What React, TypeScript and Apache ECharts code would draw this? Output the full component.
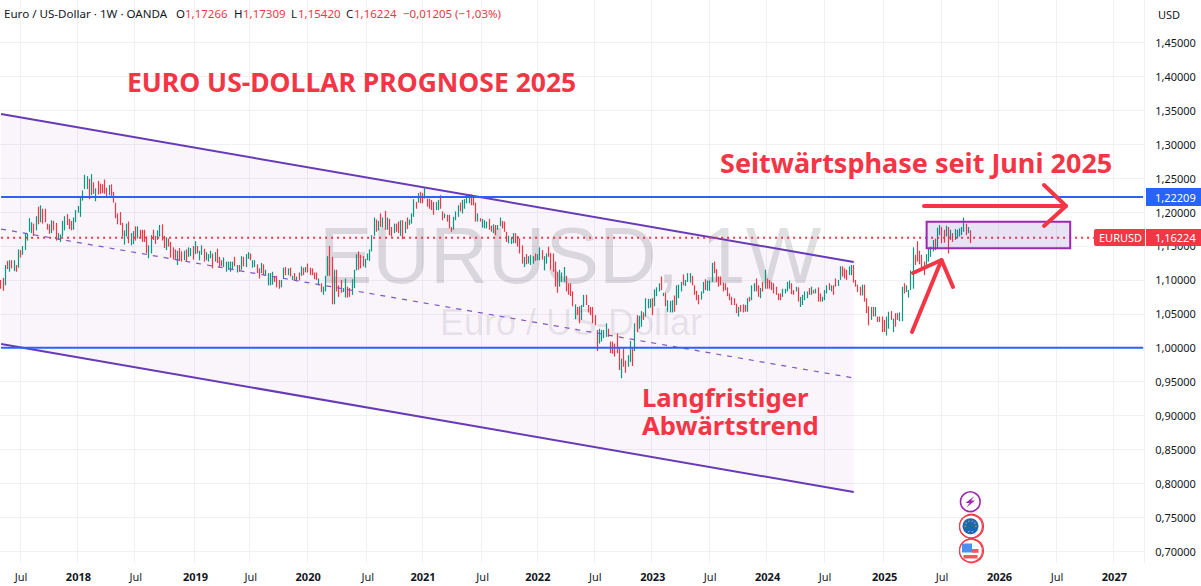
import React, { useEffect, useRef } from "react";
import * as echarts from "echarts";

type Bar = number[];
// rows are [open, close] or [open, close, low, high]
const bars2017: Bar[] = [
[1.100,1.087],[1.103,1.084],[1.092,1.122],[1.128,1.116],[1.112,1.129],[1.129,1.117],[1.113,1.129],[1.122,1.112],[1.118,1.145],[1.144,1.133],
[1.137,1.150],[1.144,1.169],[1.158,1.168],[1.171,1.191],[1.169,1.185],[1.183,1.165],[1.173,1.194],[1.208,1.182],[1.185,1.210],[1.205,1.183],
[1.205,1.185],[1.183,1.174],[1.182,1.168],[1.169,1.188],[1.187,1.173],[1.184,1.158],[1.159,1.169],[1.156,1.167],[1.164,1.187],[1.173,1.194],
[1.197,1.181],[1.190,1.175],[1.187,1.173],[1.174,1.192],[1.185,1.203],
];
const bars2018: Bar[] = [
[1.199,1.209],[1.193,1.222],[1.217,1.232],[1.234,1.255],[1.234,1.253],[1.249,1.219],[1.225,1.256],[1.244,1.227],[1.216,1.235],[1.246,1.226],
[1.242,1.227],[1.241,1.228],[1.248,1.227],[1.236,1.223],[1.225,1.240],[1.241,1.224],[1.230,1.214],[1.214,1.191],[1.198,1.182],[1.200,1.181],
[1.184,1.164],[1.152,1.173],[1.164,1.183],[1.186,1.154],[1.151,1.169],[1.153,1.172],[1.179,1.158],[1.161,1.179],[1.174,1.161],[1.174,1.156],
[1.174,1.156],[1.164,1.139],[1.132,1.151],[1.139,1.166],[1.174,1.159],[1.165,1.153],[1.159,1.173],[1.164,1.181],[1.182,1.158],[1.165,1.147],
[1.144,1.163],[1.161,1.149],[1.156,1.133],[1.148,1.130],[1.145,1.131],[1.122,1.143],[1.147,1.128],[1.142,1.127],[1.129,1.143],[1.145,1.127],
[1.134,1.148],[1.135,1.147],[1.150,1.130],
];
const bars2019: Bar[] = [
[1.138,1.157],[1.150,1.139],[1.129,1.143],[1.137,1.151],[1.146,1.127],[1.129,1.141],[1.127,1.138],[1.132,1.143],[1.139,1.117],[1.127,1.141],
[1.146,1.125],[1.134,1.118],[1.129,1.120],[1.119,1.133],[1.112,1.127],[1.115,1.127],[1.112,1.127],[1.115,1.127],[1.134,1.120],[1.111,1.122],
[1.122,1.112],[1.115,1.135],[1.134,1.120],[1.119,1.138],[1.131,1.141],[1.139,1.129],[1.118,1.129],[1.119,1.129],[1.123,1.110],[1.117,1.102],
[1.110,1.125],[1.123,1.107],[1.106,1.115],[1.092,1.110],[1.092,1.110],[1.093,1.112],[1.106,1.097],[1.106,1.089],[1.100,1.087],[1.089,1.100],
[1.102,1.118],[1.119,1.107],[1.107,1.117],[1.118,1.105],[1.100,1.106],[1.110,1.099],[1.098,1.105],[1.111,1.099],[1.106,1.120],[1.118,1.107],
[1.111,1.119],
];
const bars2020: Bar[] = [
[1.124,1.111],[1.118,1.107],[1.117,1.107],[1.111,1.101],[1.111,1.100],[1.092,1.102],[1.095,1.082],[1.078,1.090],[1.083,1.106],[1.106,1.135],
[1.150,1.106],[1.134,1.064],[1.064,1.115],[1.115,1.083],[1.092,1.075],[1.100,1.081],[1.082,1.088],[1.074,1.102],[1.090,1.074],[1.088,1.075],
[1.078,1.101],[1.088,1.115],[1.114,1.138],[1.142,1.115],[1.137,1.117],[1.135,1.120],[1.118,1.131],[1.129,1.139],[1.128,1.145],[1.142,1.166],
[1.165,1.192],[1.189,1.171],[1.173,1.187],[1.198,1.178],[1.177,1.192],[1.202,1.174],[1.174,1.192],[1.190,1.166],[1.178,1.164],[1.169,1.183],
[1.183,1.171],[1.186,1.169],[1.165,1.188],[1.188,1.160],[1.169,1.186],[1.192,1.175],[1.181,1.189],[1.183,1.198],[1.193,1.219],[1.215,1.205],
[1.214,1.228],[1.230,1.213],
];
const bars2021: Bar[] = [
[1.228,1.213],[1.220,1.235],[1.220,1.208],[1.220,1.205],[1.218,1.203],[1.215,1.196],[1.203,1.215],[1.203,1.218],[1.225,1.205],[1.201,1.188],
[1.191,1.198],[1.196,1.186],[1.196,1.176],[1.178,1.171],[1.174,1.193],[1.188,1.201],[1.193,1.210],[1.214,1.201],[1.198,1.218],[1.205,1.219],
[1.213,1.226],[1.213,1.226],[1.226,1.210],[1.223,1.210],[1.214,1.186],[1.186,1.198],[1.191,1.186],[1.177,1.190],[1.176,1.188],[1.176,1.186],
[1.190,1.174],[1.180,1.171],[1.169,1.182],[1.181,1.166],[1.174,1.181],[1.179,1.192],[1.187,1.176],[1.186,1.171],[1.171,1.156],[1.154,1.165],
[1.153,1.163],[1.154,1.169],[1.169,1.154],[1.165,1.149],[1.161,1.139],[1.151,1.124],[1.119,1.134],[1.138,1.123],[1.124,1.135],[1.122,1.137],
[1.124,1.135],[1.139,1.128],
];
const bars2022: Bar[] = [
[1.129,1.138],[1.129,1.148],[1.144,1.130],[1.114,1.135],[1.124,1.139],[1.149,1.134],[1.140,1.115],[1.139,1.112],[1.127,1.090],[1.112,1.081],
[1.090,1.115],[1.097,1.111],[1.097,1.119],[1.106,1.083],[1.095,1.078],[1.095,1.076],[1.083,1.061],[1.042,1.064],[1.060,1.048],[1.061,1.036],
[1.041,1.063],[1.060,1.078],[1.078,1.063],[1.063,1.052],[1.060,1.048],[1.060,1.036],[1.048,1.033],[1.026,0.995],[1.006,1.028],[1.009,1.026],
[1.014,1.026],[1.016,1.036],[1.028,1.016],[1.009,0.992],[1.009,0.991],[1.006,0.987],[1.021,0.992],[1.001,0.967],[0.955,0.984],[0.999,0.972],
[0.981,0.963],[0.972,0.989],[0.979,1.010],[0.999,0.973],[0.995,1.036],[1.048,1.023],[1.028,1.047],[1.031,1.054],[1.052,1.041],[1.046,1.073],
[1.058,1.072],[1.059,1.072],
];
const bars2023: Bar[] = [
[1.073,1.048],[1.061,1.086],[1.076,1.089],[1.083,1.095],[1.105,1.085],[1.076,1.081],[1.081,1.061],[1.053,1.070],[1.052,1.069],[1.052,1.070],
[1.077,1.053],[1.063,1.092],[1.073,1.093],[1.083,1.097],[1.108,1.092],[1.091,1.100],[1.097,1.110],[1.096,1.110],[1.106,1.092],[1.092,1.078],
[1.084,1.070],[1.078,1.064],[1.071,1.083],[1.080,1.097],[1.101,1.085],[1.084,1.099],[1.084,1.099],[1.097,1.125],[1.127,1.110],[1.116,1.097],
[1.105,1.090],[1.105,1.092],[1.096,1.083],[1.095,1.085],[1.089,1.076],[1.080,1.070],[1.075,1.063],[1.073,1.063],[1.065,1.051],[1.046,1.060],
[1.063,1.053],[1.064,1.052],[1.063,1.053],[1.053,1.073],[1.075,1.068],[1.070,1.092],[1.083,1.095],[1.102,1.083],[1.092,1.075],[1.073,1.088],
[1.097,1.083],[1.087,1.115],
];
const bars2024: Bar[] = [
[1.102,1.087],[1.100,1.087],[1.097,1.085],[1.095,1.080],[1.090,1.078],[1.080,1.070],[1.080,1.070],[1.075,1.087],[1.080,1.087],[1.083,1.097],
[1.087,1.099],[1.095,1.079],[1.085,1.078],[1.083,1.090],[1.089,1.068],[1.060,1.075],[1.063,1.078],[1.070,1.083],[1.073,1.083],[1.088,1.078],
[1.078,1.090],[1.085,1.080],[1.080,1.087],[1.089,1.068],[1.080,1.068],[1.068,1.075],[1.070,1.085],[1.080,1.092],[1.095,1.085],[1.083,1.092],
[1.092,1.078],[1.102,1.090],[1.091,1.100],[1.100,1.120],[1.120,1.105],[1.117,1.102],[1.115,1.100],[1.107,1.120],[1.107,1.122],[1.122,1.096],
[1.100,1.090],[1.093,1.082],[1.090,1.077],[1.077,1.093],[1.093,1.068],[1.073,1.051],[1.061,1.033],[1.041,1.060],[1.060,1.046],[1.046,1.060],
[1.046,1.038],[1.046,1.038],[1.046,1.023],[1.041,1.023],
];
const bars2025: Bar[] = [
[1.018,1.046],[1.028,1.053],[1.054,1.041],[1.023,1.043],[1.051,1.031],[1.051,1.041],[1.039,1.052],[1.039,1.090],[1.095,1.080],[1.082,1.092],
[1.074,1.085],[1.085,1.114],[1.087,1.148],[1.137,1.122],[1.157,1.127],[1.143,1.123],[1.137,1.119],[1.127,1.107],[1.116,1.138],[1.127,1.147],
[1.134,1.149],[1.142,1.159],[1.161,1.144],[1.147,1.177],[1.166,1.181],[1.178,1.154],[1.174,1.155],[1.164,1.180],[1.178,1.139],[1.159,1.174],
[1.169,1.156],[1.159,1.175],[1.161,1.174],[1.164,1.176],[1.166,1.178],[1.171,1.192],[1.183,1.166],[1.169,1.178],[1.17266,1.16224,1.1542,1.17309],
];
const allBars: Bar[] = [...bars2017, ...bars2018, ...bars2019, ...bars2020, ...bars2021, ...bars2022, ...bars2023, ...bars2024, ...bars2025];

const WEEK_SLOTS = 518;
const tickWeeks = [9, 35, 61, 88, 113, 139, 166, 191, 218, 243, 269, 295, 321, 347, 373, 400, 426, 452, 478, 504];
const tickLabels = ["Jul", "2018", "Jul", "2019", "Jul", "2020", "Jul", "2021", "Jul", "2022", "Jul", "2023", "Jul", "2024", "Jul", "2025", "Jul", "2026", "Jul", "2027"];
const priceTicks = [0.7, 0.75, 0.8, 0.85, 0.9, 0.95, 1.0, 1.05, 1.1, 1.15, 1.2, 1.25, 1.3, 1.35, 1.4, 1.45];

const CHANNEL_END = 386;
const upperChannel = [1.3447, 1.1264];
const midChannel = [1.175, 0.9553];
const lowerChannel = [1.0055, 0.7872];
const resistance = 1.22209;
const support = 1.0;
const lastPrice = 1.16224;
const rangeBox = { fromWeek: 419, toWeek: 484, top: 1.1857, bottom: 1.1467 };

const RED = "#f23645";
const GREEN = "#089981";
const BLUE = "#2962ff";
const PURPLE = "#673ab7";
const INK = "#131722";
const FONT = "'Noto Sans', sans-serif";
const TOP = 20;

const txt = (text: string, x: number, y: number, size: number, fill: string, extra: any = {}) => ({
  type: "text", x, y, z: TOP, silent: true,
  style: { text, fill, fontFamily: FONT, fontSize: size, verticalAlign: "middle", align: "left", ...extra },
});
const shape = (type: string, s: any, style: any) => ({ type, z: TOP, silent: true, shape: s, style });

function graphics() {
  const els: any[] = [];
  // legend line
  els.push(txt("Euro / US-Dollar · 1W · OANDA", 4, 13, 11.6, INK));
  const ohlc: [string, number, string, number][] = [["O", 176, "1,17266", 185], ["H", 234, "1,17309", 243], ["L", 291, "1,15420", 298], ["C", 346, "1,16224", 354]];
  ohlc.forEach(([k, kx, v, vx]) => { els.push(txt(k, kx, 13, 11.5, INK)); els.push(txt(v, vx, 13, 11.5, RED)); });
  els.push(txt("−0,01205 (−1,03%)", 403, 13, 11.5, RED));
  els.push(txt("USD", 1158, 14, 11, INK));
  // annotations
  els.push(txt("EURO US-DOLLAR PROGNOSE 2025", 127, 82, 26.5, RED, { fontWeight: 700 }));
  els.push(txt("Seitwärtsphase seit Juni 2025", 720, 162, 27, RED, { fontWeight: 700 }));
  els.push(txt("Langfristiger\nAbwärtstrend", 642, 411, 25.7, RED, { fontWeight: 700, lineHeight: 28 }));
  // arrows
  const arrow = { stroke: RED, lineWidth: 4, lineCap: "round", lineJoin: "round", fill: "none" };
  els.push(shape("polyline", { points: [[924, 206], [1066, 206]] }, arrow));
  els.push(shape("polyline", { points: [[1044, 185], [1066, 206], [1044, 226]] }, arrow));
  els.push(shape("polyline", { points: [[912, 332], [941.5, 260], [953, 287]] }, arrow));
  els.push(shape("polyline", { points: [[913, 273], [941.5, 260]] }, arrow));
  // price tags
  els.push(shape("rect", { x: 1146, y: 188, width: 55, height: 18 }, { fill: BLUE }));
  els.push(txt("1,22209", 1155, 197, 11, "#ffffff"));
  els.push(shape("rect", { x: 1094, y: 229, width: 51, height: 17, r: [2, 0, 0, 2] }, { fill: RED }));
  els.push(txt("EURUSD", 1099, 237.7, 11, "#ffffff"));
  els.push(shape("rect", { x: 1146, y: 229, width: 55, height: 17 }, { fill: RED }));
  els.push(txt("1,16224", 1155, 237.7, 11, "#ffffff"));
  // event icons
  els.push(shape("circle", { cx: 970.3, cy: 501.7, r: 9.8 }, { fill: "#ffffff", stroke: "#9c27b0", lineWidth: 1.6 }));
  els.push(shape("polygon", { points: [[974.5, 496], [965.5, 503], [969.5, 503], [966.5, 507.5], [975, 500.5], [971, 500.5]] }, { fill: "#9c27b0" }));
  [[971.5, 526.3, 12], [971, 526.3, 11.4], [971.5, 550.7, 12], [971, 550.7, 11.4]].forEach(([cx, cy, r]) =>
    els.push(shape("circle", { cx, cy, r }, { fill: "#ffffff", stroke: RED, lineWidth: 1.2 })));
  els.push(shape("circle", { cx: 970.5, cy: 526.3, r: 8 }, { fill: "#1d67b1" }));
  [0, 1, 2, 3, 4, 5, 6, 7, 8, 9].forEach((k) =>
    els.push(shape("circle", { cx: 970.5 + 5.4 * Math.cos((k * Math.PI) / 5), cy: 526.3 + 5.4 * Math.sin((k * Math.PI) / 5), r: 0.6 }, { fill: "#f4c542" })));
  els.push(shape("rect", { x: 962, y: 543.5, width: 10, height: 9 }, { fill: "#4a90f0" }));
  els.push(shape("rect", { x: 972, y: 549, width: 6.5, height: 3.8 }, { fill: "#f2595f" }));
  els.push(shape("rect", { x: 963.5, y: 555, width: 14, height: 3.5 }, { fill: "#f2595f" }));
  return els;
}

export default function App() {
  const ref = useRef<HTMLDivElement>(null);
  useEffect(() => {
    document.body.style.margin = "0";
    const chart = echarts.init(ref.current!, undefined, { renderer: "svg" });
    const categories = Array.from({ length: WEEK_SLOTS }, (_, i) => String(i));
    const candleData = allBars.map(([o, c, l, h]) => [o, c, l ?? Math.min(o, c), h ?? Math.max(o, c)]);
    const isTick = (i: number) => tickWeeks.includes(i);
    const flatLine = (v: number, color: string, width: number, dash: any, z: number) => ({
      type: "line", silent: true, symbol: "none", z,
      data: [[0, v], [WEEK_SLOTS - 1, v]],
      lineStyle: { color, width, type: dash },
    });
    const slant = (vals: number[], width: number, dash: any, color: string) => ({
      type: "line", silent: true, symbol: "none", z: 6,
      data: [[0, vals[0]], [CHANNEL_END, vals[1]]],
      lineStyle: { color, width, type: dash },
    });
    chart.setOption({
      animation: false,
      grid: { left: -0.8, top: 0, width: 1145, height: 563, containLabel: false },
      xAxis: {
        type: "category", data: categories, boundaryGap: true,
        axisLine: { show: false },
        axisTick: { show: false, alignWithLabel: true, interval: (i: number) => isTick(i) },
        axisLabel: {
          interval: (i: number) => isTick(i), margin: 8, showMinLabel: true, showMaxLabel: true, hideOverlap: false,
          formatter: (_: string, i: number) => {
            const s = tickLabels[tickWeeks.indexOf(i)] ?? "";
            return s === "Jul" ? s : `{b|${s}}`;
          },
          color: INK, fontFamily: FONT, fontSize: 11,
          rich: { b: { fontWeight: 700, color: INK, fontFamily: FONT, fontSize: 11 } },
        },
        splitLine: { show: true, interval: (i: number) => isTick(i), lineStyle: { color: "#f0f1f4", width: 1 } },
      },
      yAxis: {
        type: "value", position: "right", min: 0.68245, max: 1.51283, scale: true,
        axisLine: { show: false },
        axisTick: { show: false, customValues: priceTicks },
        axisLabel: {
          customValues: priceTicks, margin: 11, align: "left",
          formatter: (v: number) => v.toFixed(5).replace(".", ","),
          color: INK, fontFamily: FONT, fontSize: 11,
        },
        splitLine: { show: true, lineStyle: { color: "#f0f1f4", width: 1 } },
      },
      series: [
        {
          type: "custom", silent: true, z: 1, data: [[0, 1]],
          renderItem: (_: any, api: any) => ({
            type: "polygon",
            shape: { points: [api.coord([0, upperChannel[0]]), api.coord([CHANNEL_END, upperChannel[1]]), api.coord([CHANNEL_END, lowerChannel[1]]), api.coord([0, lowerChannel[0]])] },
            style: { fill: "rgba(156,39,176,0.05)" },
          }),
        },
        {
          type: "custom", silent: true, z: 2, data: [[0, 1]], clip: false,
          renderItem: () => ({
            type: "group",
            children: [
              { type: "text", x: 570, y: 255, style: { text: "EURUSD, 1W", fontFamily: "'Liberation Sans'", fontSize: 80, fill: "rgba(42,46,57,0.15)", align: "center", verticalAlign: "middle" } },
              { type: "text", x: 571, y: 322, style: { text: "Euro / US-Dollar", fontFamily: "'Liberation Sans'", fontSize: 36, fill: "rgba(42,46,57,0.1)", align: "center", verticalAlign: "middle" } },
            ],
          }),
        },
        {
          type: "candlestick", data: candleData, z: 3, barWidth: 0.01, silent: true,
          itemStyle: { color: GREEN, color0: RED, borderColor: GREEN, borderColor0: RED, borderWidth: 1.2 },
        },
        slant(upperChannel, 2, "solid", PURPLE),
        slant(lowerChannel, 2, "solid", PURPLE),
        slant(midChannel, 1.2, [5, 6], "#7e57c2"),
        flatLine(resistance, BLUE, 2, "solid", 6),
        flatLine(support, BLUE, 2, "solid", 6),
        flatLine(lastPrice, RED, 2, [2, 4], 7),
        {
          type: "custom", silent: true, z: 8, data: [[0, 1]],
          renderItem: (_: any, api: any) => {
            const a = api.coord([rangeBox.fromWeek, rangeBox.top]);
            const b = api.coord([rangeBox.toWeek, rangeBox.bottom]);
            return {
              type: "rect",
              shape: { x: a[0], y: a[1], width: b[0] - a[0], height: b[1] - a[1] },
              style: { fill: "rgba(103,58,183,0.15)", stroke: "#9c27b0", lineWidth: 2 },
            };
          },
        },
      ],
      graphic: { elements: graphics() },
    });
    return () => chart.dispose();
  }, []);
  return <div ref={ref} style={{ width: 1201, height: 586 }} />;
}
